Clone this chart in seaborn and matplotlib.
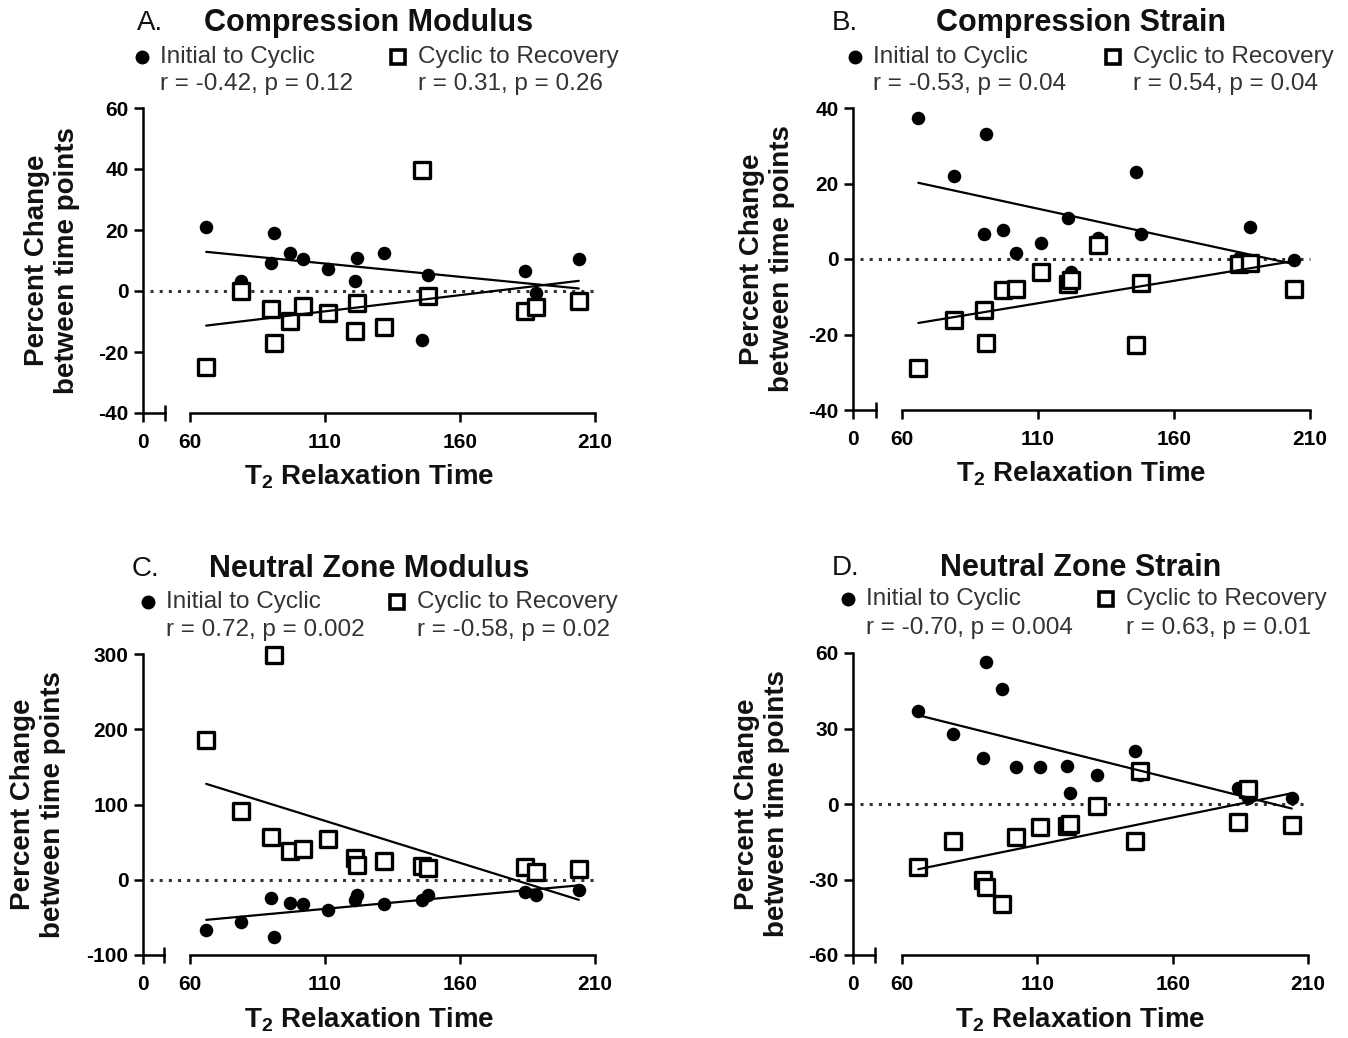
import matplotlib
matplotlib.use("Agg")
import matplotlib.pyplot as plt
from matplotlib.lines import Line2D
import seaborn as sns

sns.set_theme(style="ticks")
plt.rcParams['font.family'] = ['Liberation Sans', 'DejaVu Sans']
plt.rcParams['mathtext.fontset'] = 'custom'
plt.rcParams['mathtext.rm'] = 'Liberation Sans'
plt.rcParams['mathtext.bf'] = 'Liberation Sans:bold'

# T2 relaxation time of the 15 samples (same in every panel)
t2 = [66, 79, 90, 91, 97, 102, 111, 121, 122, 132, 146, 148, 184, 188, 204]

# percent change, initial to cyclic (ic) and cyclic to recovery (cr)
comp_mod_ic = [21.0, 3.3, 9.3, 19.1, 12.6, 10.6, 7.1, 3.3, 10.7, 12.6, -16.2, 5.1, 6.6, -0.5, 10.4]
comp_mod_cr = [-24.9, 0.0, -6.0, -16.9, -9.8, -4.9, -7.1, -13.1, -4.0, -11.8, 39.6, -1.6, -6.6, -5.1, -3.3]
comp_str_ic = [37.4, 22.0, 6.6, 33.0, 7.8, 1.6, 4.2, 10.9, -3.5, 5.6, 23.1, 6.6, 0.3, 8.4, -0.2]
comp_str_cr = [-28.9, -16.1, -13.5, -22.3, -8.3, -7.9, -3.5, -6.6, -5.5, 3.6, -22.7, -6.4, -1.2, -1.1, -7.9]
nz_mod_ic = [-67.4, -56.8, -24.4, -76.3, -31.0, -32.3, -40.0, -26.6, -20.0, -32.3, -26.6, -20.0, -16.4, -20.0, -13.3]
nz_mod_cr = [186, 92, 57, 299, 38.6, 41, 54.5, 29, 20, 24.4, 18.6, 15.5, 16.4, 10.2, 14.2]
nz_str_ic = [36.8, 27.9, 18.3, 56.4, 45.7, 14.6, 14.6, 15.2, 4.4, 11.7, 21.2, 11.7, 6.4, 2.4, 2.4]
nz_str_cr = [-25.2, -14.6, -30.3, -33.0, -39.7, -13.1, -9.3, -8.9, -7.9, -0.9, -14.6, 13.2, -7.2, 6.1, -8.5]

titles = ['Compression Modulus', 'Compression Strain', 'Neutral Zone Modulus', 'Neutral Zone Strain']
letters = ['A.', 'B.', 'C.', 'D.']
stats_ic = ['r = -0.42, p = 0.12', 'r = -0.53, p = 0.04', 'r = 0.72, p = 0.002', 'r = -0.70, p = 0.004']
stats_cr = ['r = 0.31, p = 0.26', 'r = 0.54, p = 0.04', 'r = -0.58, p = 0.02', 'r = 0.63, p = 0.01']
y_ticks = [[-40, -20, 0, 20, 40, 60], [-40, -20, 0, 20, 40],
           [-100, 0, 100, 200, 300], [-60, -30, 0, 30, 60]]
x_ticks = [60, 110, 160, 210]
label_ic = 'Initial to Cyclic'
label_cr = 'Cyclic to Recovery'

series_ic = [comp_mod_ic, comp_str_ic, nz_mod_ic, nz_str_ic]
series_cr = [comp_mod_cr, comp_str_cr, nz_mod_cr, nz_str_cr]

# panel geometry in pixels
layout = [
    dict(yax=143, lend=165, rs=190, re=595, top=108, bot=413, let_x=137, cx=142, sx=398, y1=57, y2=84, ylx=52, xly=477),
    dict(yax=853, lend=876, rs=902, re=1310, top=108, bot=410, let_x=832, cx=855, sx=1113, y1=57, y2=84, ylx=767, xly=474),
    dict(yax=143, lend=164, rs=190, re=595, top=654, bot=955, let_x=132, cx=148, sx=397, y1=602, y2=630, ylx=38, xly=1020),
    dict(yax=853, lend=875, rs=902, re=1308, top=653, bot=955, let_x=832, cx=848, sx=1106, y1=599, y2=628, ylx=762, xly=1020),
]

W, H = 1348, 1038
fig = plt.figure(figsize=(W / 100, H / 100), dpi=100)


def fx(x):
    return x / W


def fy(y):
    return 1 - y / H


tick_font = dict(fontsize=15, fontweight='bold')

for i, p in enumerate(layout):
    h = (p['bot'] - p['top']) / H
    ax_l = fig.add_axes([fx(p['yax']), fy(p['bot']), (p['lend'] - p['yax']) / W, h])
    ax_r = fig.add_axes([fx(p['rs']), fy(p['bot']), (p['re'] - p['rs']) / W, h])

    # zero line, running from the short segment across the break
    x0 = (p['yax'] + 7 - p['rs']) / (p['re'] - p['rs'])
    ax_r.axhline(0, xmin=x0, xmax=1, color='#333333', lw=2.2, ls=(0, (1, 2)),
                 clip_on=False, zorder=1)

    sns.scatterplot(x=t2, y=series_ic[i], ax=ax_r, marker='o', color='black',
                    s=95, linewidth=0, zorder=3, clip_on=False)
    sns.scatterplot(x=t2, y=series_cr[i], ax=ax_r, marker='s', color='white',
                    s=125, edgecolor='black', linewidth=2.4, zorder=4, clip_on=False)
    sns.regplot(x=t2, y=series_ic[i], ax=ax_r, scatter=False, ci=None, color='black',
                line_kws=dict(lw=1.6, zorder=5))
    sns.regplot(x=t2, y=series_cr[i], ax=ax_r, scatter=False, ci=None, color='black',
                line_kws=dict(lw=1.6, zorder=5))

    yt = y_ticks[i]
    for ax in (ax_l, ax_r):
        ax.set_ylim(yt[0], yt[-1])
        ax.set_facecolor('none')
        ax.set_xlabel('')
        ax.set_ylabel('')
        for s in ('top', 'right'):
            ax.spines[s].set_visible(False)
        for s in ('left', 'bottom'):
            ax.spines[s].set_linewidth(1.8)
            ax.spines[s].set_color('black')
        ax.tick_params(which='both', width=1.8, color='black', labelcolor='black')
        ax.tick_params(which='major', length=6.5, direction='out', pad=4)
        ax.tick_params(which='minor', length=12, direction='inout')
        ax.tick_params(axis='x', which='major', pad=8)

    ax_l.set_xlim(0, 8)
    ax_l.set_xticks([0])
    ax_l.set_xticks([8], minor=True)
    ax_l.set_yticks(yt)
    ax_l.set_xticklabels(['0'], **tick_font)
    ax_l.set_yticklabels([str(v) for v in yt], **tick_font)

    ax_r.set_xlim(x_ticks[0], x_ticks[-1])
    ax_r.set_xticks(x_ticks)
    ax_r.set_xticks([x_ticks[0]], minor=True)
    ax_r.set_xticklabels([str(v) for v in x_ticks], **tick_font)
    ax_r.spines['left'].set_visible(False)
    ax_r.tick_params(left=False, labelleft=False)

    # headings
    mid = (p['yax'] + p['re']) / 2
    fig.text(fx(p['let_x']), fy(p['top'] - 85), letters[i], fontsize=20,
             ha='left', va='center', color='#111111')
    fig.text(fx(mid), fy(p['top'] - 85), titles[i], fontsize=22, fontweight='bold',
             ha='center', va='center', color='#111111')

    # legend block
    fig.add_artist(Line2D([fx(p['cx'])], [fy(p['y1'])], marker='o', ms=9, color='black',
                          ls='none', transform=fig.transFigure))
    fig.add_artist(Line2D([fx(p['sx'])], [fy(p['y1'])], marker='s', ms=10.5, mfc='white',
                          mec='black', mew=2.6, ls='none', transform=fig.transFigure))
    leg = dict(fontsize=17.5, ha='left', va='center', color='#333333')
    fig.text(fx(p['cx'] + 18), fy(p['y1']), label_ic, **leg)
    fig.text(fx(p['sx'] + 20), fy(p['y1']), label_cr, **leg)
    fig.text(fx(p['cx'] + 18), fy(p['y2']), stats_ic[i], **leg)
    fig.text(fx(p['sx'] + 20), fy(p['y2']), stats_cr[i], **leg)

    # axis titles
    fig.text(fx(mid), fy(p['xly']), r'T$_{\mathbf{2}}$ Relaxation Time', fontsize=20,
             fontweight='bold', ha='center', va='center', color='#111111')
    fig.text(fx(p['ylx']), fy((p['top'] + p['bot']) / 2), 'Percent Change\nbetween time points',
             fontsize=20, fontweight='bold', rotation=90, ha='center', va='center',
             multialignment='center', linespacing=1.2, color='#111111')

fig.savefig('out.png', dpi=100, facecolor='white')
